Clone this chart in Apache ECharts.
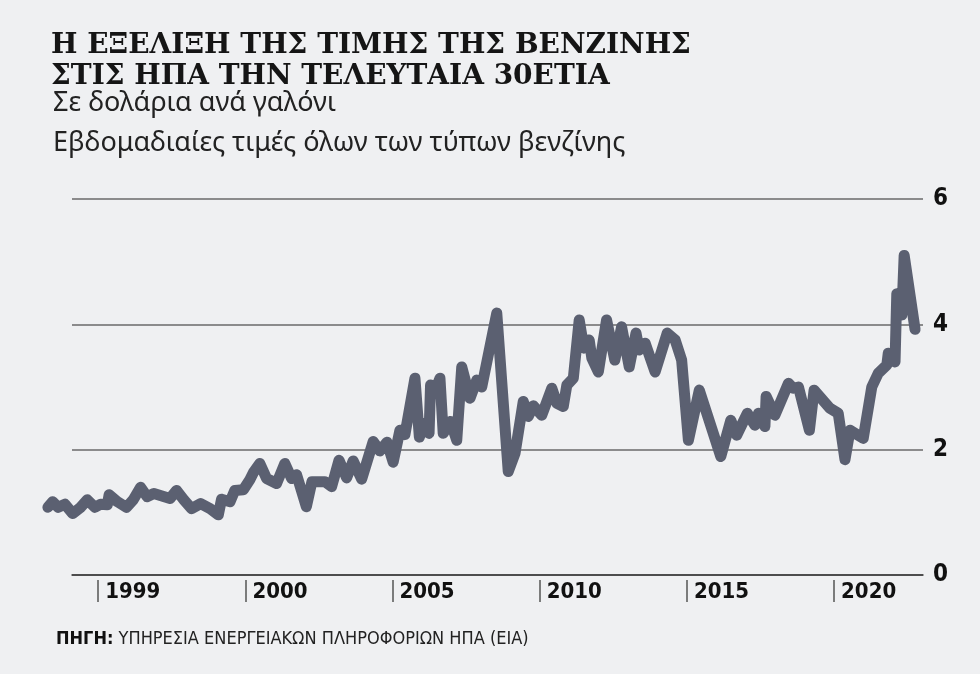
<!DOCTYPE html>
<html>
<head>
<meta charset="utf-8">
<script src="https://cdn.jsdelivr.net/npm/echarts@6/dist/echarts.min.js"></script>
<style>
  html, body { margin: 0; padding: 0; background: #eff0f2; }
  #chart { width: 980px; height: 674px; }
</style>
</head>
<body>
<div id="chart"></div>
<script>
// εβδομαδιαίες τιμές βενζίνης (δείγμα σημείων από το γράφημα)
var years = [
  1993.29, 1993.45, 1993.64, 1993.87, 1994.13, 1994.38, 1994.63, 1994.89,
  1995.08, 1995.31, 1995.37, 1995.65, 1995.96, 1996.19, 1996.44, 1996.66,
  1996.89, 1997.44, 1997.66, 1997.91, 1998.17, 1998.48, 1998.80, 1999.08,
  1999.19, 1999.48, 1999.64, 1999.93, 2000.15, 2000.29, 2000.49, 2000.72,
  2001.06, 2001.34, 2001.57, 2001.74, 2002.07, 2002.26, 2002.70, 2002.93,
  2003.18, 2003.44, 2003.66, 2003.95, 2004.34, 2004.57, 2004.81, 2005.02,
  2005.25, 2005.42, 2005.76, 2005.91, 2006.07, 2006.24, 2006.29, 2006.41,
  2006.61, 2006.72, 2006.97, 2007.18, 2007.35, 2007.63, 2007.86, 2008.03,
  2008.54, 2008.93, 2009.16, 2009.44, 2009.61, 2009.78, 2010.07, 2010.41,
  2010.58, 2010.80, 2010.92, 2011.14, 2011.34, 2011.50, 2011.68, 2011.77,
  2011.99, 2012.27, 2012.55, 2012.78, 2013.04, 2013.27, 2013.38, 2013.58,
  2013.92, 2014.33, 2014.60, 2014.82, 2015.05, 2015.42, 2016.15, 2016.49,
  2016.69, 2017.05, 2017.31, 2017.43, 2017.65, 2017.69, 2017.99, 2018.45,
  2018.61, 2018.79, 2019.16, 2019.32, 2019.86, 2020.14, 2020.37, 2020.54,
  2020.99, 2021.28, 2021.50, 2021.79, 2021.84, 2022.07, 2022.13, 2022.30,
  2022.38, 2022.75
];
var prices = [
  1.08, 1.17, 1.08, 1.13, 0.98, 1.07, 1.20, 1.08,
  1.13, 1.12, 1.28, 1.17, 1.08, 1.20, 1.40, 1.25,
  1.30, 1.22, 1.35, 1.20, 1.06, 1.14, 1.06, 0.96,
  1.21, 1.17, 1.35, 1.36, 1.52, 1.65, 1.78, 1.54,
  1.46, 1.78, 1.54, 1.60, 1.09, 1.49, 1.49, 1.41,
  1.83, 1.55, 1.82, 1.53, 2.13, 1.98, 2.12, 1.80,
  2.31, 2.24, 3.14, 2.20, 2.42, 2.26, 3.03, 2.90,
  3.14, 2.26, 2.45, 2.15, 3.32, 2.82, 3.11, 3.00,
  4.18, 1.65, 1.94, 2.77, 2.53, 2.70, 2.55, 2.98,
  2.74, 2.69, 3.03, 3.14, 4.07, 3.62, 3.75, 3.46,
  3.24, 4.07, 3.43, 3.96, 3.32, 3.86, 3.59, 3.70,
  3.24, 3.86, 3.75, 3.43, 2.15, 2.95, 1.89, 2.47,
  2.23, 2.58, 2.39, 2.58, 2.37, 2.85, 2.55, 3.06,
  2.98, 3.00, 2.31, 2.95, 2.66, 2.58, 1.84, 2.31,
  2.18, 3.00, 3.22, 3.35, 3.54, 3.40, 4.49, 4.15,
  5.10, 3.92
];
var tickYears = [1995, 2000, 2005, 2010, 2015, 2020];
var tickLabels = ['1999', '2000', '2005', '2010', '2015', '2020'];
var yTicks = [0, 2, 4, 6];

var lineData = years.map(function (y, i) { return [y, prices[i]]; });
var narrow = '"Liberation Sans Narrow", "DejaVu Sans Condensed", sans-serif';

// grid 0: η γραμμή (ξεκινά πιο αριστερά από τις γραμμές πλέγματος)
// grid 1: άξονες, πλέγμα, ετικέτες
var yearMin = 1993.09, axisStart = 1994.11, yearMax = 2023.02;

var myChart = echarts.init(document.getElementById('chart'));
var options = {
    backgroundColor: '#eff0f2',
    animation: false,
    title: [
        {
            text: 'Η ΕΞΕΛΙΞΗ ΤΗΣ ΤΙΜΗΣ ΤΗΣ ΒΕΝΖΙΝΗΣ\nΣΤΙΣ ΗΠΑ ΤΗΝ ΤΕΛΕΥΤΑΙΑ 30ΕΤΙΑ',
            left: 46,
            top: 25,
            textStyle: {
                fontFamily: '"DejaVu Serif", serif',
                fontWeight: 'bold',
                fontSize: 28,
                lineHeight: 31,
                color: '#151515'
            }
        },
        {
            text: 'Σε δολάρια ανά γαλόνι\nΕβδομαδιαίες τιμές όλων των τύπων βενζίνης',
            left: 48,
            top: 78,
            textStyle: {
                fontFamily: '"Noto Sans", sans-serif',
                fontWeight: 'normal',
                fontSize: 27,
                lineHeight: 40,
                color: '#222'
            }
        },
        {
            text: '{b|ΠΗΓΗ:} ΥΠΗΡΕΣΙΑ ΕΝΕΡΓΕΙΑΚΩΝ ΠΛΗΡΟΦΟΡΙΩΝ ΗΠΑ (ΕΙΑ)',
            left: 51,
            top: 625,
            textStyle: {
                fontFamily: narrow,
                fontSize: 18,
                fontWeight: 'normal',
                color: '#222',
                rich: {
                    b: { fontFamily: narrow, fontSize: 18, fontWeight: 'bold', color: '#111' }
                }
            }
        }
    ],
    grid: [
        { left: 42, right: 57, top: 199, bottom: 99 },
        { left: 72, right: 57, top: 199, bottom: 99 }
    ],
    xAxis: [
        {
            type: 'value',
            gridIndex: 0,
            min: yearMin,
            max: yearMax,
            show: false
        },
        {
            type: 'value',
            gridIndex: 1,
            min: axisStart,
            max: yearMax,
            axisLine: { show: true, lineStyle: { color: '#3a3a3a', width: 1.5 } },
            axisTick: { show: false },
            axisLabel: { show: false },
            splitLine: { show: false }
        },
        {
            type: 'value',
            gridIndex: 1,
            min: axisStart,
            max: yearMax,
            position: 'bottom',
            offset: 5,
            axisLine: { show: false },
            axisTick: {
                show: true,
                customValues: tickYears,
                length: 22,
                lineStyle: { color: '#555', width: 1.5 }
            },
            axisLabel: {
                show: true,
                customValues: tickYears,
                formatter: function (v) {
                    return tickLabels[tickYears.indexOf(v)];
                },
                align: 'left',
                verticalAlign: 'middle',
                margin: 12,
                padding: [0, 0, 0, 7],
                fontFamily: narrow,
                fontWeight: 'bold',
                fontSize: 22,
                color: '#111'
            },
            splitLine: { show: false }
        }
    ],
    yAxis: [
        {
            type: 'value',
            gridIndex: 0,
            min: yTicks[0],
            max: yTicks[yTicks.length - 1],
            show: false
        },
        {
            type: 'value',
            gridIndex: 1,
            position: 'right',
            min: yTicks[0],
            max: yTicks[yTicks.length - 1],
            interval: 2,
            axisLine: { show: false },
            axisTick: { show: false },
            axisLabel: {
                margin: 10,
                fontFamily: narrow,
                fontWeight: 'bold',
                fontSize: 24,
                color: '#111'
            },
            splitLine: {
                show: true,
                lineStyle: { color: '#6a6a6a', width: 1.5 }
            }
        }
    ],
    series: [
        {
            type: 'line',
            xAxisIndex: 0,
            yAxisIndex: 0,
            data: lineData,
            showSymbol: false,
            clip: false,
            z: 5,
            lineStyle: {
                color: '#5b6071',
                width: 11,
                cap: 'round',
                join: 'round'
            }
        }
    ]
};
myChart.setOption(options);
window.addEventListener('resize', function () {
    myChart.resize();
});
</script>
</body>
</html>
